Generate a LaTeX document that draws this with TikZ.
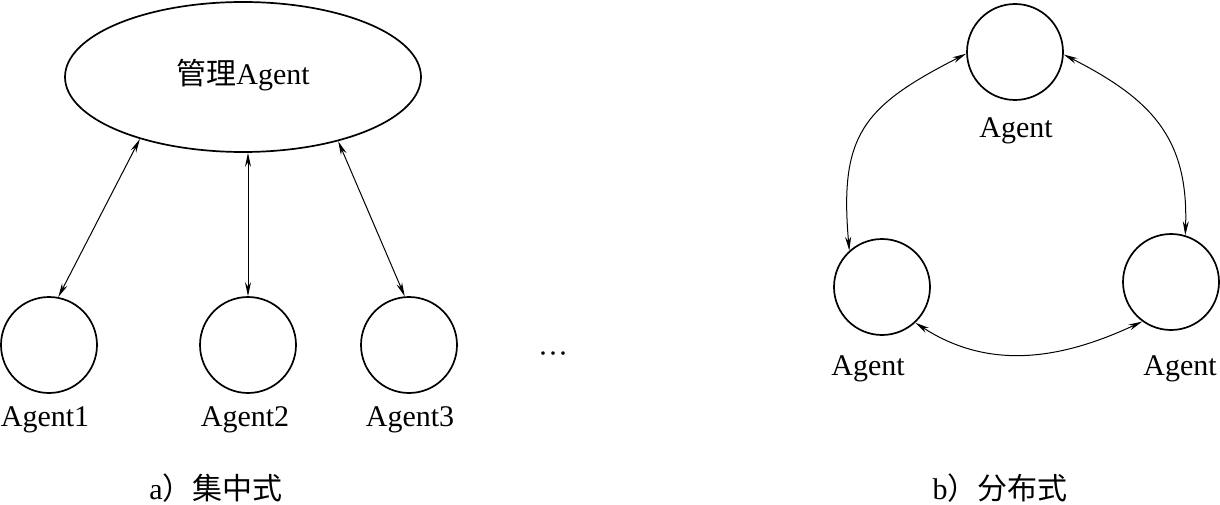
\documentclass[tikz,border=0pt]{standalone}
\usepackage{fontspec}
\setmainfont{Liberation Serif}
\newfontfamily\cjk{Noto Sans CJK SC}
\usetikzlibrary{arrows.meta,shapes.geometric}
\begin{document}
\begin{tikzpicture}[x=1pt,y=1pt,
  agent/.style={circle,draw,line width=0.85pt,minimum size=48pt,inner sep=0pt},
  lbl/.style={font=\fontsize{15}{18}\selectfont,inner sep=0pt},
  link/.style={line width=0.5pt,{Stealth[length=7pt,width=3pt]}-{Stealth[length=7pt,width=3pt]}}]
\useasboundingbox (0,0) rectangle (610,252);
% a) centralized
\node[ellipse,draw,line width=0.85pt,minimum width=178pt,minimum height=75pt,font=\fontsize{15}{18}\selectfont,inner sep=0pt] (mgr) at (121.5,213.5) {\raisebox{5.5pt}{{\cjk 管理}Agent}};
\node[agent] (c1) at (24.5,79.5) {};
\node[agent] (c2) at (124,79.5) {};
\node[agent] (c3) at (204.5,79.5) {};
\node[lbl] (l1) at (22.5,42) {Agent1};
\node[lbl] (l2) at (122.5,42) {Agent2};
\node[lbl] (l3) at (205,42) {Agent3};
\node[lbl] (dots) at (276.5,73) {\textperiodcentered\textperiodcentered\textperiodcentered};
\draw[link] (c1.79) -- (mgr.211);
\draw[link] (c2.north) -- (c2.north |- mgr.south);
\draw[link] (c3.95) -- (mgr.-34);
\node[lbl] (capa) at (108,8) {a{\cjk ）}{\cjk 集中式}};
% b) distributed
\node[agent] (t) at (507.5,226) {};
\node[agent] (l) at (441,108.5) {};
\node[agent] (r) at (585.5,111) {};
\node[lbl] (lt) at (508,186.5) {Agent};
\node[lbl] (ll) at (434,67.5) {Agent};
\node[lbl] (lr) at (590,67.5) {Agent};
\draw[link] (t.182) to[out=207,in=95,looseness=1.3] (l.132);
\draw[link] (t.-3) to[out=-27,in=88,looseness=1.15] (r.73);
\draw[link] (l.-47) to[out=-33,in=205,looseness=1] (r.234);
\node[lbl] (capb) at (500,8) {b{\cjk ）}{\cjk 分布式}};
\end{tikzpicture}
\end{document}
